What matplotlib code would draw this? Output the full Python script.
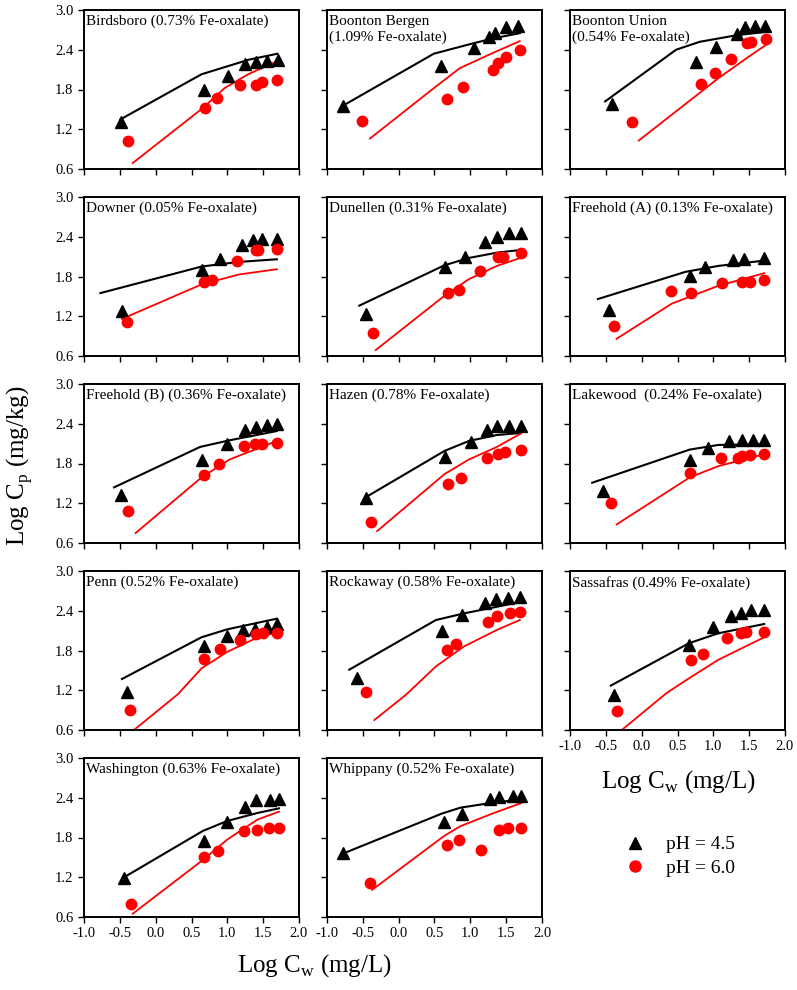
import matplotlib
matplotlib.use("Agg")
import matplotlib.pyplot as plt
from matplotlib.lines import Line2D

plt.rcParams["font.family"] = "Liberation Serif"
plt.rcParams["mathtext.fontset"] = "custom"
plt.rcParams["mathtext.rm"] = "Liberation Serif"

SITES = [
    "Birdsboro (0.73% Fe-oxalate)", "Boonton Bergen\n(1.09% Fe-oxalate)",
    "Boonton Union\n(0.54% Fe-oxalate)", "Downer (0.05% Fe-oxalate)",
    "Dunellen (0.31% Fe-oxalate)", "Freehold (A) (0.13% Fe-oxalate)",
    "Freehold (B) (0.36% Fe-oxalate)", "Hazen (0.78% Fe-oxalate)",
    "Lakewood  (0.24% Fe-oxalate)", "Penn (0.52% Fe-oxalate)",
    "Rockaway (0.58% Fe-oxalate)", "Sassafras (0.49% Fe-oxalate)",
    "Washington (0.63% Fe-oxalate)", "Whippany (0.52% Fe-oxalate)",
]

# pH 4.5 measured points
TRI_X = [
    [-0.49, 0.67, 1.01, 1.25, 1.40, 1.55, 1.70],
    [-0.77, 0.59, 1.05, 1.26, 1.34, 1.50, 1.67],
    [-0.42, 0.76, 1.04, 1.33, 1.44, 1.58, 1.72],
    [-0.47, 0.64, 0.90, 1.20, 1.36, 1.48, 1.69],
    [-0.45, 0.64, 0.93, 1.21, 1.37, 1.54, 1.70],
    [-0.46, 0.67, 0.89, 1.27, 1.43, 1.71],
    [-0.49, 0.65, 1.00, 1.24, 1.40, 1.55, 1.69],
    [-0.46, 0.64, 1.01, 1.23, 1.37, 1.54, 1.70],
    [-0.54, 0.67, 0.93, 1.22, 1.40, 1.56, 1.71],
    [-0.40, 0.67, 1.00, 1.22, 1.38, 1.55, 1.69],
    [-0.58, 0.61, 0.88, 1.20, 1.36, 1.52, 1.69],
    [-0.39, 0.66, 0.99, 1.25, 1.39, 1.53, 1.71],
    [-0.44, 0.67, 0.99, 1.25, 1.40, 1.59, 1.72],
    [-0.77, 0.63, 0.89, 1.27, 1.40, 1.60, 1.71],
]
TRI_Y = [
    [1.31, 1.80, 2.01, 2.19, 2.21, 2.23, 2.24],
    [1.55, 2.15, 2.42, 2.60, 2.65, 2.75, 2.76],
    [1.58, 2.22, 2.44, 2.64, 2.75, 2.76, 2.76],
    [1.28, 1.90, 2.07, 2.28, 2.35, 2.36, 2.37],
    [1.24, 1.95, 2.10, 2.32, 2.40, 2.45, 2.46],
    [1.29, 1.81, 1.95, 2.05, 2.07, 2.08],
    [1.33, 1.85, 2.10, 2.30, 2.35, 2.38, 2.40],
    [1.28, 1.90, 2.13, 2.31, 2.36, 2.36, 2.36],
    [1.39, 1.85, 2.03, 2.14, 2.15, 2.15, 2.16],
    [1.18, 1.87, 2.02, 2.11, 2.13, 2.15, 2.20],
    [1.38, 2.10, 2.33, 2.51, 2.58, 2.59, 2.60],
    [1.13, 1.88, 2.15, 2.32, 2.37, 2.41, 2.41],
    [1.19, 1.75, 2.03, 2.26, 2.36, 2.37, 2.38],
    [1.56, 2.04, 2.16, 2.38, 2.41, 2.42, 2.43],
]

# pH 6.0 measured points
CIR_X = [
    [-0.38, 0.69, 0.86, 1.18, 1.40, 1.48, 1.69],
    [-0.51, 0.67, 0.90, 1.31, 1.39, 1.50, 1.69],
    [-0.14, 0.83, 1.02, 1.24, 1.47, 1.52, 1.73],
    [-0.40, 0.68, 0.78, 1.14, 1.40, 1.43, 1.69],
    [-0.36, 0.69, 0.84, 1.14, 1.39, 1.45, 1.70],
    [-0.39, 0.41, 0.69, 1.12, 1.40, 1.51, 1.71],
    [-0.39, 0.68, 0.88, 1.23, 1.38, 1.48, 1.69],
    [-0.38, 0.69, 0.87, 1.23, 1.39, 1.49, 1.70],
    [-0.43, 0.68, 1.10, 1.35, 1.40, 1.51, 1.71],
    [-0.36, 0.68, 0.90, 1.18, 1.40, 1.50, 1.69],
    [-0.45, 0.67, 0.80, 1.24, 1.37, 1.56, 1.69],
    [-0.35, 0.69, 0.86, 1.19, 1.39, 1.45, 1.71],
    [-0.34, 0.68, 0.87, 1.23, 1.41, 1.58, 1.72],
    [-0.40, 0.67, 0.84, 1.15, 1.40, 1.53, 1.71],
]
CIR_Y = [
    [1.02, 1.52, 1.67, 1.87, 1.87, 1.91, 1.94],
    [1.32, 1.66, 1.84, 2.10, 2.20, 2.29, 2.40],
    [1.31, 1.89, 2.05, 2.26, 2.50, 2.52, 2.56],
    [1.11, 1.71, 1.74, 2.04, 2.20, 2.20, 2.22],
    [0.94, 1.55, 1.60, 1.88, 2.09, 2.10, 2.15],
    [1.05, 1.58, 1.55, 1.70, 1.71, 1.72, 1.74],
    [1.08, 1.63, 1.80, 2.06, 2.09, 2.10, 2.11],
    [0.92, 1.49, 1.58, 1.88, 1.94, 1.98, 2.00],
    [1.21, 1.66, 1.88, 1.88, 1.91, 1.93, 1.94],
    [0.90, 1.67, 1.82, 1.96, 2.05, 2.06, 2.07],
    [1.18, 1.81, 1.90, 2.23, 2.32, 2.37, 2.38],
    [0.88, 1.65, 1.75, 1.99, 2.07, 2.08, 2.08],
    [0.79, 1.51, 1.60, 1.90, 1.91, 1.94, 1.95],
    [1.12, 1.69, 1.76, 1.61, 1.92, 1.94, 1.95],
]

# model curves, pH 4.5 (black)
BLK_X = [
    [-0.49, 0.64, 1.00, 1.30, 1.70],
    [-0.77, 0.49, 0.98, 1.31, 1.69],
    [-0.51, 0.48, 0.81, 1.33, 1.73],
    [-0.77, 0.64, 1.16, 1.69],
    [-0.55, 0.64, 0.98, 1.37, 1.70],
    [-0.61, 0.61, 1.07, 1.71],
    [-0.58, 0.62, 1.03, 1.69],
    [-0.46, 0.64, 0.98, 1.37, 1.70],
    [-0.69, 0.67, 1.07, 1.71],
    [-0.47, 0.64, 1.00, 1.69],
    [-0.69, 0.52, 0.91, 1.37, 1.69],
    [-0.43, 0.66, 1.07, 1.71],
    [-0.44, 0.66, 1.00, 1.42, 1.72],
    [-0.77, 0.60, 0.86, 1.28, 1.75],
]
BLK_Y = [
    [1.35, 2.03, 2.15, 2.25, 2.34],
    [1.56, 2.34, 2.48, 2.57, 2.65],
    [1.62, 2.40, 2.52, 2.62, 2.67],
    [1.55, 1.95, 2.02, 2.06],
    [1.36, 1.97, 2.08, 2.16, 2.20],
    [1.46, 1.87, 1.96, 2.04],
    [1.44, 2.05, 2.15, 2.29],
    [1.29, 1.99, 2.14, 2.23, 2.26],
    [1.51, 2.01, 2.08, 2.09],
    [1.37, 2.00, 2.12, 2.28],
    [1.51, 2.26, 2.36, 2.46, 2.53],
    [1.27, 1.91, 2.06, 2.20],
    [1.20, 1.90, 2.05, 2.17, 2.24],
    [1.56, 2.16, 2.25, 2.32, 2.38],
]

# model curves, pH 6.0 (red)
RED_X = [
    [-0.32, 0.67, 0.96, 1.29, 1.70],
    [-0.40, 0.49, 0.85, 1.31, 1.69],
    [-0.04, 0.48, 1.07, 1.46, 1.73],
    [-0.47, 0.64, 1.16, 1.69],
    [-0.32, 0.64, 0.98, 1.37, 1.70],
    [-0.35, 0.42, 1.07, 1.71],
    [-0.28, 0.64, 1.03, 1.69],
    [-0.30, 0.64, 0.98, 1.37, 1.70],
    [-0.35, 0.67, 1.07, 1.71],
    [-0.36, 0.31, 0.64, 1.00, 1.35, 1.69],
    [-0.34, 0.10, 0.52, 0.91, 1.37, 1.69],
    [-0.30, 0.35, 0.66, 1.07, 1.71],
    [-0.32, 0.67, 1.00, 1.42, 1.72],
    [-0.37, 0.63, 0.86, 1.28, 1.71],
]
RED_Y = [
    [0.69, 1.53, 1.82, 2.03, 2.23],
    [1.06, 1.82, 2.12, 2.35, 2.53],
    [1.03, 1.47, 1.97, 2.27, 2.47],
    [1.16, 1.68, 1.83, 1.91],
    [0.69, 1.51, 1.76, 1.96, 2.08],
    [0.86, 1.39, 1.66, 1.85],
    [0.75, 1.59, 1.86, 2.14],
    [0.78, 1.64, 1.86, 2.05, 2.25],
    [0.88, 1.59, 1.76, 1.94],
    [0.55, 1.14, 1.53, 1.78, 1.96, 2.08],
    [0.75, 1.13, 1.56, 1.86, 2.11, 2.26],
    [0.58, 1.16, 1.38, 1.66, 2.00],
    [0.65, 1.47, 1.77, 2.07, 2.19],
    [1.01, 1.82, 1.97, 2.15, 2.32],
]

X_TICKS = [-1.0, -0.5, 0.0, 0.5, 1.0, 1.5, 2.0]
Y_TICKS = [0.6, 1.2, 1.8, 2.4, 3.0]

W, H = 797, 990
fig = plt.figure(figsize=(W / 100, H / 100), dpi=100)

col_left = [84, 327, 570]
row_top = [10, 197, 384, 571, 758]
pw, ph = 215, 159

for i, name in enumerate(SITES):
    r, c = divmod(i, 3)
    ax = fig.add_axes([col_left[c] / W, 1 - (row_top[r] + ph) / H, pw / W, ph / H])
    ax.plot(BLK_X[i], BLK_Y[i], color="black", lw=1.5, zorder=2)
    ax.plot(RED_X[i], RED_Y[i], color="red", lw=1.3, zorder=2)
    ax.plot(TRI_X[i], TRI_Y[i], "^", color="black", ms=8, ls="none", zorder=3)
    ax.plot(CIR_X[i], CIR_Y[i], "o", color="red", ms=7.5, ls="none", zorder=3)
    ax.set_xlim(-1.0, 2.0)
    ax.set_ylim(0.6, 3.0)
    ax.set_xticks(X_TICKS)
    ax.set_yticks(Y_TICKS)
    ax.tick_params(direction="out", length=4, width=1, labelsize=10.5, top=False, right=False)
    for s in ax.spines.values():
        s.set_linewidth(1.4)
    ax.xaxis.set_major_formatter(matplotlib.ticker.FormatStrFormatter("%.1f"))
    ax.yaxis.set_major_formatter(matplotlib.ticker.FormatStrFormatter("%.1f"))
    if c != 0:
        ax.tick_params(labelleft=False)
    if not (r == 4 or (r == 3 and c == 2)):
        ax.tick_params(labelbottom=False)
    ax.text(0.01, 0.97, name, transform=ax.transAxes, ha="left", va="top",
            fontsize=11, linespacing=1.3)

fig.text(0.025, 0.53, r"Log C$_\mathrm{p}$ (mg/kg)", rotation=90,
         ha="center", va="center", fontsize=18)
fig.text(0.395, 0.025, r"Log C$_\mathrm{w}$ (mg/L)", ha="center", va="center", fontsize=18)
fig.text(0.851, 0.211, r"Log C$_\mathrm{w}$ (mg/L)", ha="center", va="center", fontsize=18)

handles = [
    Line2D([], [], marker="^", color="black", ls="none", ms=9),
    Line2D([], [], marker="o", color="red", ls="none", ms=8),
]
fig.legend(handles, ["pH = 4.5", "pH = 6.0"], loc="center left",
           bbox_to_anchor=(0.75, 0.135), frameon=False, fontsize=14,
           handletextpad=0.6, labelspacing=0.3)

fig.savefig("out.png", dpi=100)
